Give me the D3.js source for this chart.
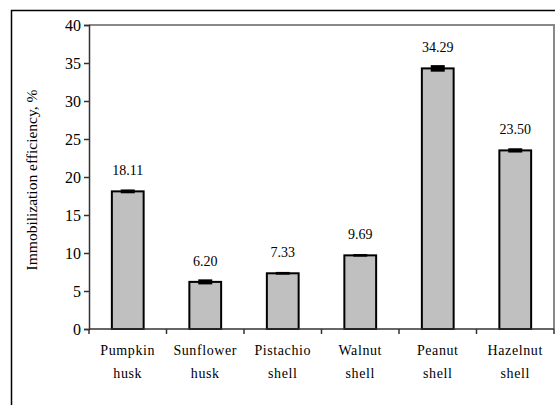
<!DOCTYPE html>
<html>
<head>
<meta charset="utf-8">
<script src="https://cdn.jsdelivr.net/npm/d3@7"></script>
<style>
  body { margin: 0; background: #fff; }
  svg { display: block; font-family: "Liberation Serif", "Times New Roman", serif; }
</style>
</head>
<body>
<div class="chart"></div>
<script>
// data
const categories = [["Pumpkin", "husk"], ["Sunflower", "husk"], ["Pistachio", "shell"],
  ["Walnut", "shell"], ["Peanut", "shell"], ["Hazelnut", "shell"]];
const values = [18.11, 6.20, 7.33, 9.69, 34.29, 23.50];
const errors = [0.12, 0.2, 0.05, 0.04, 0.3, 0.15];
const yTicks = [0, 5, 10, 15, 20, 25, 30, 35, 40];

const W = 555, H = 405;
// plot area
const margin = { top: 25, right: 1, bottom: 76, left: 89 };
const width = W - margin.left - margin.right,
  height = H - margin.top - margin.bottom;

const root = d3.select(".chart").append("svg")
  .attr("width", W)
  .attr("height", H);

// outer frame
root.append("rect")
  .attr("x", 11.5).attr("y", 10.5)
  .attr("width", 600).attr("height", 500)
  .attr("fill", "none")
  .attr("stroke", "#000")
  .attr("stroke-width", 1.5);

const svg = root.append("g")
  .attr("transform", `translate(${margin.left},${margin.top})`);

const x = d3.scaleBand()
  .domain(d3.range(categories.length))
  .range([0, width])
  .paddingInner(0.59)
  .paddingOuter(0.295);
const band = d3.scaleBand().domain(d3.range(categories.length)).range([0, width]);
const y = d3.scaleLinear().domain([0, 40]).range([height, 0]);

// plot frame top + right (grey)
svg.append("path")
  .attr("d", `M0,0H${width}V${height}`)
  .attr("fill", "none")
  .attr("stroke", "#888")
  .attr("stroke-width", 2);

// bars
svg.selectAll("rect.bar")
  .data(values)
  .enter()
  .append("rect")
  .attr("class", "bar")
  .attr("x", (d, i) => x(i))
  .attr("y", d => y(d))
  .attr("width", x.bandwidth())
  .attr("height", d => height - y(d))
  .attr("fill", "#c0c0c0")
  .attr("stroke", "#000")
  .attr("stroke-width", 2);

// error bars (small caps, nearly merged)
const eb = svg.selectAll("g.err")
  .data(values)
  .enter()
  .append("g")
  .attr("class", "err")
  .attr("transform", (d, i) => `translate(${x(i) + x.bandwidth() / 2},0)`);
eb.append("rect")
  .attr("x", -7)
  .attr("width", 14)
  .attr("y", (d, i) => y(d + errors[i]) - 1)
  .attr("height", (d, i) => y(d - errors[i]) - y(d + errors[i]) + 2)
  .attr("fill", "#000");

// value labels
svg.selectAll("text.val")
  .data(values)
  .enter()
  .append("text")
  .attr("class", "val")
  .attr("x", (d, i) => x(i) + x.bandwidth() / 2)
  .attr("y", (d, i) => y(d) - 16)
  .attr("text-anchor", "middle")
  .attr("font-size", 14)
  .text(d => d.toFixed(2));

// y axis
const yAxis = d3.axisLeft(y).tickValues(yTicks).tickSize(5).tickPadding(3);
const gy = svg.append("g").attr("class", "axis y-axis").call(yAxis);
gy.selectAll("path, line").attr("stroke", "#333").attr("stroke-width", 1.5);
gy.selectAll("text").attr("font-size", 16).attr("font-family", "Liberation Serif").attr("fill", "#000");

// x axis: ticks at band boundaries
const gx = svg.append("g")
  .attr("class", "axis x-axis")
  .attr("transform", `translate(0,${height})`);
gx.append("line")
  .attr("x1", 0).attr("x2", width)
  .attr("stroke", "#333").attr("stroke-width", 1.5);
gx.selectAll("line.tick")
  .data(d3.range(categories.length + 1))
  .enter()
  .append("line")
  .attr("class", "tick")
  .attr("x1", i => i < categories.length ? band(i) : width)
  .attr("x2", i => i < categories.length ? band(i) : width)
  .attr("y1", 0).attr("y2", 5)
  .attr("stroke", "#333").attr("stroke-width", 1.5);

const catText = gx.selectAll("text.cat")
  .data(categories)
  .enter()
  .append("text")
  .attr("class", "cat")
  .attr("text-anchor", "middle")
  .attr("font-size", 14)
  .attr("letter-spacing", 0.6)
  .attr("x", (d, i) => band(i) + band.bandwidth() / 2);
catText.append("tspan")
  .attr("x", (d, i) => band(i) + band.bandwidth() / 2)
  .attr("y", 26)
  .text(d => d[0]);
catText.append("tspan")
  .attr("x", (d, i) => band(i) + band.bandwidth() / 2)
  .attr("y", 49)
  .text(d => d[1]);

// y title
svg.append("text")
  .attr("class", "axis y-title")
  .attr("transform", `translate(-52,${height / 2 + 3}) rotate(-90)`)
  .attr("text-anchor", "middle")
  .attr("font-size", 15.5)
  .text("Immobilization efficiency, %");
</script>
</body>
</html>
